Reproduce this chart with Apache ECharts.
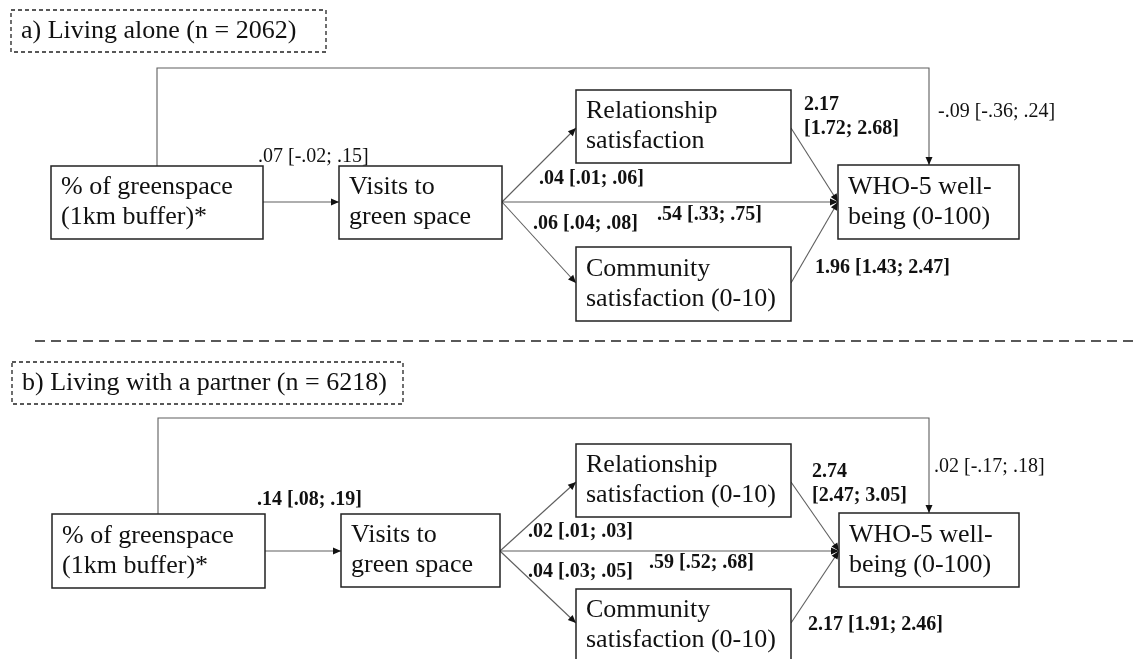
<!DOCTYPE html>
<html>
<head>
<meta charset="utf-8">
<title>Path model</title>
<script src="https://cdn.jsdelivr.net/npm/echarts/dist/echarts.min.js"></script>
<style>
  html, body { margin: 0; padding: 0; background: #fff; }
  #chart { width: 1137px; height: 659px; }
</style>
</head>
<body>
<div id="chart"></div>
<script>
// ---------- data ----------
const panelTitles = ['a) Living alone (n = 2062)', 'b) Living with a partner (n = 6218)'];

const nodesA = ['% of greenspace\n(1km buffer)*', 'Visits to\ngreen space', 'Relationship\nsatisfaction',
  'WHO-5 well-\nbeing (0-100)', 'Community\nsatisfaction (0-10)'];
const nodesB = ['% of greenspace\n(1km buffer)*', 'Visits to\ngreen space', 'Relationship\nsatisfaction (0-10)',
  'WHO-5 well-\nbeing (0-100)', 'Community\nsatisfaction (0-10)'];

// path order: green->visits, visits->rel, visits->comm, visits->who, rel->who, comm->who, green->who (direct)
const estA = ['.07 [-.02; .15]', '.04 [.01; .06]', '.06 [.04; .08]', '.54 [.33; .75]',
  '2.17\n[1.72; 2.68]', '1.96 [1.43; 2.47]', '-.09 [-.36; .24]'];
const estB = ['.14 [.08; .19]', '.02 [.01; .03]', '.04 [.03; .05]', '.59 [.52; .68]',
  '2.74\n[2.47; 3.05]', '2.17 [1.91; 2.46]', '.02 [-.17; .18]'];
const sigA = [false, true, true, true, true, true, false];
const sigB = [true, true, true, true, true, true, false];

// ---------- layout (page units, y down) ----------
const layoutA = {
  title: [11, 10, 326, 52],
  boxes: [[51, 166, 263, 239], [339, 166, 502, 239], [576, 90, 791, 163], [838, 165, 1019, 239], [576, 247, 791, 321]],
  paths: [
    [[263, 202], [339, 202]],
    [[502, 202], [576, 128]],
    [[502, 202], [576, 283]],
    [[502, 202], [838, 202]],
    [[791, 128], [838, 202]],
    [[791, 283], [838, 202]],
    [[157, 166], [157, 68], [929, 68], [929, 165]]
  ],
  labels: [[258, 157], [539, 179], [533, 224], [657, 215], [804, 117], [815, 268], [938, 112]]
};
const layoutB = {
  title: [12, 362, 403, 404],
  boxes: [[52, 514, 265, 588], [341, 514, 500, 587], [576, 444, 791, 517], [839, 513, 1019, 587], [576, 589, 791, 662]],
  paths: [
    [[265, 551], [341, 551]],
    [[500, 551], [576, 482]],
    [[500, 551], [576, 623]],
    [[500, 551], [839, 551]],
    [[791, 482], [839, 551]],
    [[791, 623], [839, 551]],
    [[158, 514], [158, 418], [929, 418], [929, 513]]
  ],
  labels: [[257, 500], [528, 532], [528, 572], [649, 563], [812, 484], [808, 625], [934, 467]]
};
const separator = [[35, 341], [1137, 341]];

const FONT = "'Liberation Serif', 'Times New Roman', serif";
const INK = '#111';
const EDGE = '#5e5e5e';

const chart = echarts.init(document.getElementById('chart'));

const boxSeries = (layout, names) => ({
  type: 'custom',
  coordinateSystem: 'cartesian2d',
  z: 3,
  data: layout.boxes,
  renderItem: (params, api) => {
    const p0 = api.coord([api.value(0), api.value(1)]);
    const p1 = api.coord([api.value(2), api.value(3)]);
    return {
      type: 'group',
      children: [
        {
          type: 'rect',
          shape: { x: p0[0], y: p0[1], width: p1[0] - p0[0], height: p1[1] - p0[1] },
          style: { fill: '#fff', stroke: '#222', lineWidth: 1.5 }
        },
        {
          type: 'text',
          style: {
            text: names[params.dataIndex], x: p0[0] + 10, y: (p0[1] + p1[1]) / 2,
            fontSize: 26, fontFamily: FONT, fill: INK, align: 'left', verticalAlign: 'middle', lineHeight: 30
          }
        }
      ]
    };
  }
});

const pathSeries = (layout, est, sig) => ({
  type: 'custom',
  coordinateSystem: 'cartesian2d',
  z: 2,
  data: layout.labels,
  renderItem: (params, api) => {
    const i = params.dataIndex;
    const pts = layout.paths[i].map((p) => api.coord(p));
    const end = pts[pts.length - 1];
    const prev = pts[pts.length - 2];
    const len = Math.hypot(end[0] - prev[0], end[1] - prev[1]);
    const dx = (end[0] - prev[0]) / len;
    const dy = (end[1] - prev[1]) / len;
    const bx = end[0] - dx * 8;
    const by = end[1] - dy * 8;
    const lp = api.coord([api.value(0), api.value(1)]);
    return {
      type: 'group',
      children: [
        { type: 'polyline', shape: { points: pts }, style: { stroke: EDGE, lineWidth: 1.1, fill: null } },
        {
          type: 'polygon',
          shape: { points: [end, [bx - dy * 3.5, by + dx * 3.5], [bx + dy * 3.5, by - dx * 3.5]] },
          style: { fill: '#111' }
        },
        {
          type: 'text',
          style: {
            text: est[i], x: lp[0], y: lp[1], fontSize: 20, fontFamily: FONT,
            fontWeight: sig[i] ? 'bold' : 'normal', fill: INK, align: 'left', verticalAlign: 'middle', lineHeight: 24
          }
        }
      ]
    };
  }
});

const titleSeries = {
  type: 'custom',
  coordinateSystem: 'cartesian2d',
  z: 4,
  data: [layoutA.title, layoutB.title],
  renderItem: (params, api) => {
    const p0 = api.coord([api.value(0), api.value(1)]);
    const p1 = api.coord([api.value(2), api.value(3)]);
    return {
      type: 'group',
      children: [
        {
          type: 'rect',
          shape: { x: p0[0], y: p0[1], width: p1[0] - p0[0], height: p1[1] - p0[1] },
          style: { fill: null, stroke: '#222', lineWidth: 1.3, lineDash: [4, 3] }
        },
        {
          type: 'text',
          style: {
            text: panelTitles[params.dataIndex], x: p0[0] + 10, y: (p0[1] + p1[1]) / 2,
            fontSize: 26, fontFamily: FONT, fill: INK, align: 'left', verticalAlign: 'middle'
          }
        }
      ]
    };
  }
};

const separatorSeries = {
  type: 'custom',
  coordinateSystem: 'cartesian2d',
  z: 1,
  data: [[separator[0][0], separator[0][1], separator[1][0], separator[1][1]]],
  renderItem: (params, api) => {
    const p0 = api.coord([api.value(0), api.value(1)]);
    const p1 = api.coord([api.value(2), api.value(3)]);
    return {
      type: 'line',
      shape: { x1: p0[0], y1: p0[1], x2: p1[0], y2: p1[1] },
      style: { stroke: '#222', lineWidth: 1.3, lineDash: [10, 6] }
    };
  }
};

chart.setOption({
  animation: false,
  backgroundColor: '#fff',
  grid: { left: 0, right: 0, top: 0, bottom: 0 },
  xAxis: { type: 'value', min: 0, max: 1137, show: false },
  yAxis: { type: 'value', min: 0, max: 659, inverse: true, show: false },
  series: [
    separatorSeries,
    pathSeries(layoutA, estA, sigA),
    pathSeries(layoutB, estB, sigB),
    boxSeries(layoutA, nodesA),
    boxSeries(layoutB, nodesB),
    titleSeries
  ]
});
</script>
</body>
</html>
